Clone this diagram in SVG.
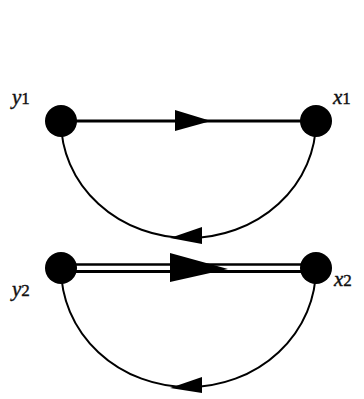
<svg xmlns="http://www.w3.org/2000/svg" width="364" height="399" viewBox="0 0 364 399">
<style>
.node{fill:#000}
.edge{fill:none;stroke:#000}
.arc{stroke-width:2}
.lbl{font-family:"Liberation Serif",serif;font-style:italic;font-size:21px;fill:#111;stroke:#111;stroke-width:0.4}
.sub{font-style:normal;font-size:17px}
.head{fill:#000}
</style>
<rect width="364" height="399" fill="#fff"/>
<g id="connectors">
  <line class="edge" x1="61" y1="121" x2="316" y2="121" stroke-width="3"/>
  <polygon class="head" points="175,110 175,131 211,121"/>
  <path class="edge arc" d="M316,121 A127.5,117 0 0 1 61,121"/>
  <polygon class="head" points="202,227 202,244 170,238"/>
  <line class="edge" x1="61" y1="264.5" x2="316" y2="264.5" stroke-width="2.5"/>
  <line class="edge" x1="61" y1="271.5" x2="316" y2="271.5" stroke-width="3"/>
  <polygon class="head" points="170,253 170,282 228,269"/>
  <path class="edge arc" d="M316,268 A127.5,119 0 0 1 61,268"/>
  <polygon class="head" points="202,377 202,393 170,388"/>
</g>
<g id="y1"><circle class="node" cx="61" cy="121" r="16"/><text class="lbl" x="12" y="104">y<tspan class="sub">1</tspan></text></g>
<g id="x1"><circle class="node" cx="316" cy="121" r="16"/><text class="lbl" x="333" y="104">x<tspan class="sub">1</tspan></text></g>
<g id="y2"><circle class="node" cx="61" cy="268" r="16"/><text class="lbl" x="12" y="296">y<tspan class="sub">2</tspan></text></g>
<g id="x2"><circle class="node" cx="316" cy="268" r="16"/><text class="lbl" x="334" y="286">x<tspan class="sub">2</tspan></text></g>
</svg>
